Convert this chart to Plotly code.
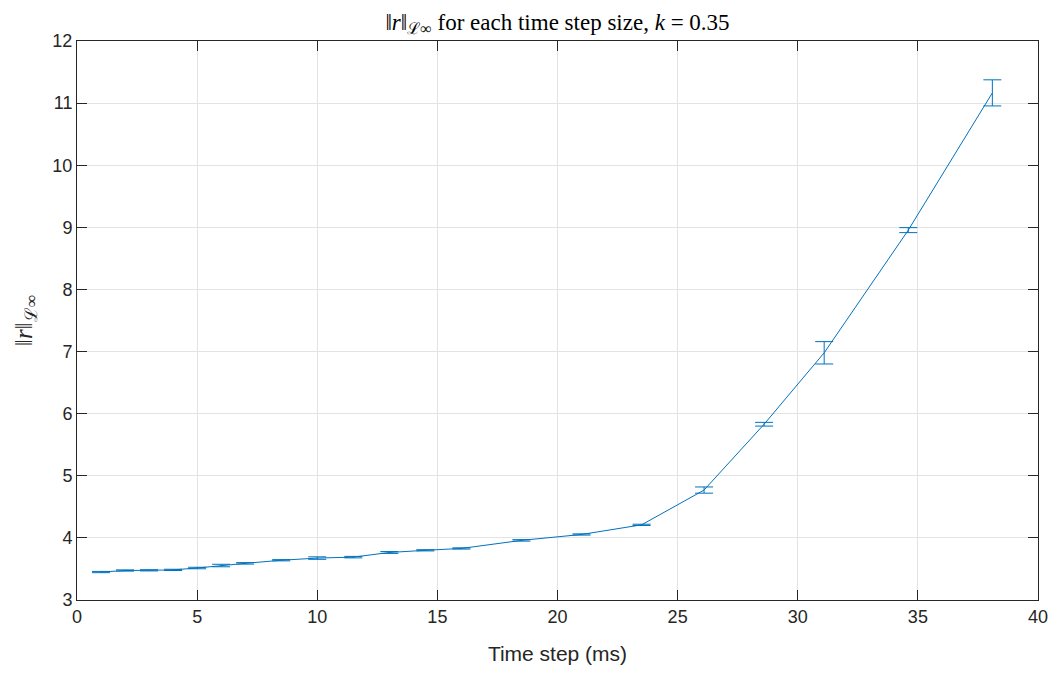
import plotly.graph_objects as go

time_step_ms = [1, 2, 3, 4, 5, 6, 7, 8.5, 10, 11.5, 13, 14.5, 16, 18.5, 21, 23.5,
                26.1, 28.6, 31.1, 34.6, 38.1]
r_inf = [3.45, 3.475, 3.478, 3.485, 3.515, 3.555, 3.59, 3.64, 3.675, 3.69, 3.765,
         3.80, 3.83, 3.96, 4.055, 4.21, 4.77, 5.83, 6.98, 8.955, 11.165]
r_err = [0.01, 0.01, 0.01, 0.01, 0.012, 0.02, 0.012, 0.01, 0.02, 0.012, 0.015,
         0.01, 0.01, 0.012, 0.01, 0.01, 0.05, 0.03, 0.18, 0.04, 0.21]

x_ticks = [0, 5, 10, 15, 20, 25, 30, 35, 40]
y_ticks = [3, 4, 5, 6, 7, 8, 9, 10, 11, 12]

blue = "#0072BD"
axc = "#262626"

fig = go.Figure()
fig.add_trace(go.Scatter(
    x=time_step_ms, y=r_inf, mode="lines",
    line=dict(color=blue, width=1),
    error_y=dict(type="data", array=r_err, visible=True, color=blue,
                 thickness=1, width=9),
    showlegend=False,
))

axis_common = dict(
    showline=True, linecolor=axc, linewidth=1, mirror="ticks",
    ticks="inside", ticklen=10, tickwidth=1, tickcolor=axc,
    showgrid=True, gridcolor="#e3e3e3", gridwidth=1, zeroline=False,
    tickfont=dict(family="Liberation Sans, Arial", size=18, color=axc),
)

serif = "Liberation Serif, DejaVu Serif, serif"

fig.update_layout(
    width=1060, height=673,
    margin=dict(l=77, r=20, t=41, b=73),
    paper_bgcolor="white", plot_bgcolor="white",
    title=dict(
        text="‖<i>r</i>‖<sub>ℒ∞</sub> for each time step size, <i>k</i> = 0.35",
        x=0.5, xref="paper", xanchor="center", y=0.968, yanchor="middle",
        font=dict(family=serif, size=23, color="black"),
    ),
    xaxis=dict(axis_common, range=[0, 40], tickvals=x_ticks,
               title=dict(text="Time step (ms)", standoff=20,
                          font=dict(family="Liberation Sans, Arial", size=21, color=axc))),
    yaxis=dict(axis_common, range=[3, 12], tickvals=y_ticks,
               title=dict(text="‖<i>r</i>‖<sub>ℒ∞</sub>", standoff=12,
                          font=dict(family=serif, size=25, color=axc))),
)

fig.write_html("out.html")
